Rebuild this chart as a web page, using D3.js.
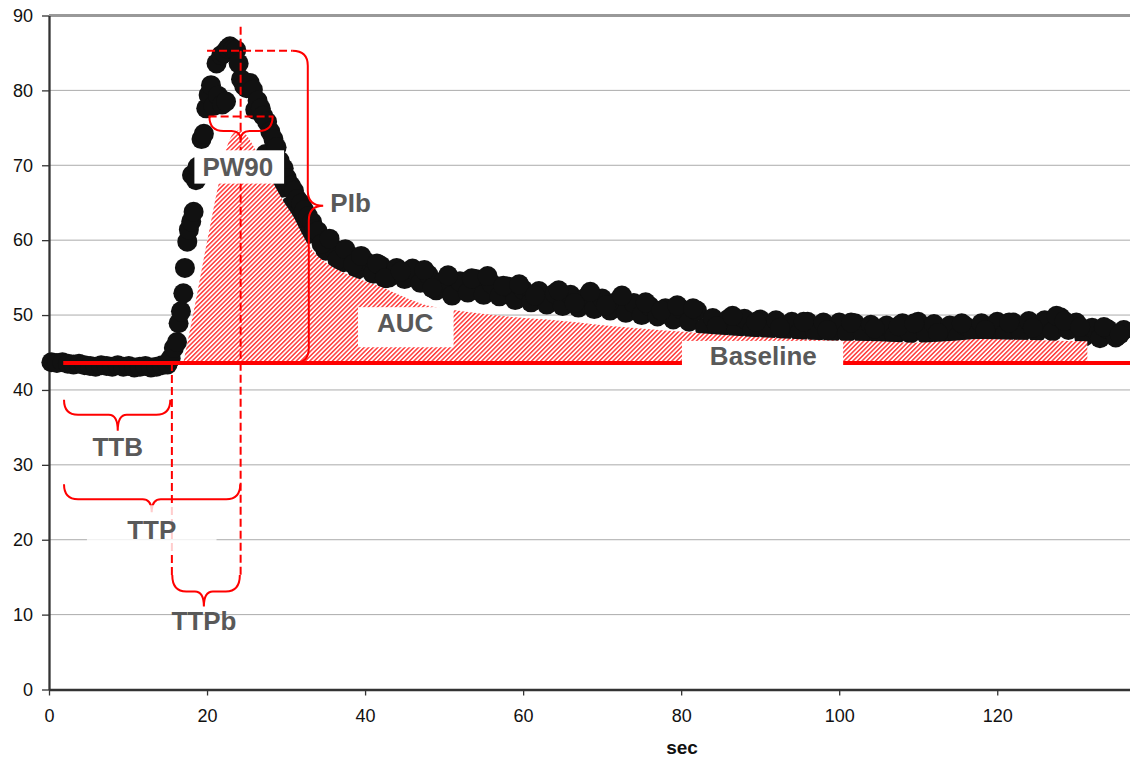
<!DOCTYPE html>
<html>
<head>
<meta charset="utf-8">
<script src="https://cdn.jsdelivr.net/npm/d3@7"></script>
<style>
  body { margin: 0; background: #fff; }
  svg { display: block; font-family: "Liberation Sans", Arial, sans-serif; }
</style>
</head>
<body>
<div id="chart"></div>
<script>
// signal before contrast arrival (sec, intensity)
var preTimes  = [0.3, 1.0, 1.7, 2.4, 3.1, 3.8, 4.5, 5.2, 5.9, 6.6, 7.3, 8.0, 8.7, 9.4, 10.1, 10.8, 11.5, 12.2, 12.9, 13.6, 14.3];
var preValues = [43.7, 43.6, 43.7, 43.5, 43.4, 43.5, 43.3, 43.2, 43.1, 43.3, 43.2, 43.1, 43.3, 43.1, 43.2, 43.0, 43.1, 43.2, 43.0, 43.1, 43.3];

// first pass of the bolus
var peakTimes  = [15.0, 15.4, 15.8, 16.2, 16.4, 16.7, 17.0, 17.2, 17.5, 17.7, 18.0, 18.1, 18.3, 18.6, 18.8, 19.3, 19.6, 19.9, 20.2, 20.5,
                  20.8, 21.2, 21.4, 21.8, 21.9, 22.2, 22.4, 22.6, 22.9, 23.3, 23.7, 24.0, 24.3, 24.7, 25.0, 25.4, 25.8, 26.1, 26.4, 26.8,
                  27.1, 27.4, 27.6, 28.0, 28.4, 28.5, 28.8, 29.2, 29.5, 29.7, 30.1, 30.6, 30.6, 31.0, 31.4, 31.6, 31.9, 32.3, 32.8, 32.8,
                  33.3, 33.6];
var peakValues = [43.4, 44.2, 45.6, 46.4, 48.9, 50.5, 52.9, 56.3, 59.8, 61.4, 62.5, 68.7, 63.8, 68.0, 69.8, 73.5, 74.2, 77.6, 79.4, 80.7,
                  77.9, 83.6, 79.3, 84.7, 78.1, 85.0, 78.5, 85.6, 85.9, 85.5, 85.4, 83.6, 81.5, 80.6, 80.3, 81.0, 80.1, 77.4, 78.6, 77.6,
                  76.6, 71.5, 75.8, 74.5, 73.5, 69.0, 72.4, 70.6, 67.0, 69.6, 68.3, 64.6, 67.3, 66.6, 65.5, 62.8, 64.9, 64.0, 60.8, 63.2,
                  62.4, 61.5];

// washout tail
var tailTimes  = [34, 35, 36, 37, 38, 39, 40, 41, 42, 43, 44, 45, 46, 47, 48, 49, 50, 51, 52, 53,
                  54, 55, 56, 57, 58, 59, 60, 61, 62, 63, 64, 65, 66, 67, 68, 69, 70, 71, 72, 73,
                  74, 75, 76, 77, 78, 79, 80, 81, 82, 83, 84, 85, 86, 87, 88, 89, 90, 91, 92, 93,
                  94, 95, 96, 97, 98, 99, 100, 101, 102, 103, 104, 105, 106, 107, 108, 109, 110, 111, 112, 113,
                  114, 115, 116, 117, 118, 119, 120, 121, 122, 123, 124, 125, 126, 127, 128, 129, 130, 131, 132, 133,
                  134, 135, 136];
var tailValues = [61.2, 58.6, 58.9, 57.0, 58.0, 56.1, 57.2, 55.5, 56.6, 55.0, 56.3, 54.8, 56.2, 54.3, 55.4, 53.3, 54.6, 52.6, 54.5, 53.0,
                  54.8, 52.7, 54.2, 52.5, 53.8, 52.0, 53.4, 51.7, 53.2, 51.4, 52.9, 51.2, 52.7, 51.0, 52.4, 50.8, 52.2, 50.6, 51.9, 50.3,
                  51.6, 50.0, 51.2, 49.8, 50.9, 49.4, 50.8, 49.1, 50.6, 48.3, 49.6, 48.2, 49.5, 48.1, 49.5, 48.0, 49.4, 47.9, 49.3, 47.8,
                  49.1, 47.7, 49.1, 47.6, 49.0, 47.5, 49.0, 47.6, 48.9, 47.4, 48.7, 47.3, 48.6, 47.2, 48.9, 47.5, 49.1, 47.4, 48.8, 47.2,
                  48.6, 47.1, 48.5, 47.4, 48.9, 47.6, 49.1, 47.5, 49.0, 47.6, 49.2, 47.7, 49.3, 47.8, 49.7, 48.0, 49.0, 47.1, 48.3, 46.9,
                  48.1, 47.0, 48.0];
// in-between tail samples
var midTimes  = [34.5, 35.5, 36.5, 37.5, 38.5, 39.5, 41.5, 42.5, 44.5, 47.5, 48.5, 50.5, 53.5, 55.5, 57.5, 59.5, 61.5, 64.5, 66.5, 68.5,
                 70.5, 72.5, 75.5, 77.5, 79.5, 81.5, 84.5, 86.5, 89.5, 92.5, 95.5, 98.5, 101.5, 104.5, 107.5, 109.5, 112.5, 115.5, 118.5, 121.5,
                 124.5, 127.5, 128.5, 130.5, 133.5, 135.5];
var midValues = [59.5, 60.2, 57.4, 58.8, 56.8, 57.9, 56.9, 54.9, 55.8, 56.0, 53.6, 55.3, 54.9, 55.2, 53.9, 54.1, 52.6, 53.3, 51.6, 53.1,
                 51.3, 52.6, 51.7, 50.6, 51.3, 50.9, 48.5, 49.9, 49.1, 48.3, 49.1, 48.0, 49.0, 48.2, 48.5, 48.9, 47.6, 48.9, 48.0, 49.0,
                 48.3, 49.9, 49.2, 48.4, 48.4, 47.4];

// fitted curve used for the area under curve
var aucTimes  = [17.0, 18.5, 20.0, 21.4, 22.5, 23.3, 24.2, 25.0, 26.0, 27.2, 28.4, 29.6, 30.9, 32.0, 33.0, 34.0, 35.2, 36.8, 38.5, 40.0,
                 41.9, 44.5, 47.4, 51.0, 54.6, 59.0, 63.0, 67.0, 71.4, 76.0, 79.9, 86.0, 92.5, 99.0, 105.2, 109.4, 113.5, 117.8, 122.0, 126.5,
                 131.4];
var aucValues = [43.6, 51.5, 59.8, 67.2, 72.4, 74.2, 74.7, 74.0, 72.3, 70.0, 67.6, 65.3, 63.2, 60.9, 59.1, 57.9, 56.9, 55.9, 55.1, 54.5,
                 53.8, 52.6, 51.4, 50.7, 50.2, 49.7, 49.4, 49.0, 48.5, 48.1, 47.8, 47.3, 46.9, 46.6, 46.5, 46.3, 46.5, 46.8, 46.7, 46.6,
                 46.5];

var xTicks = [0, 20, 40, 60, 80, 100, 120];
var yTicks = [0, 10, 20, 30, 40, 50, 60, 70, 80, 90];

// perfusion parameters
var baseLevel = 43.6, peakLevel = 85.3, pw90Level = 76.5;
var tStart = 1.9, tArrival = 15.55, tPeak = 24.25;

var W = 1130, H = 757;
var svg = d3.select("#chart").append("svg").attr("width", W).attr("height", H);

var x = d3.scaleLinear().domain([0, 136.8]).range([49, 1130]);
var y = d3.scaleLinear().domain([0, 90]).range([689.5, 15.5]);

var defs = svg.append("defs");
var pat = defs.append("pattern")
    .attr("id", "hatch")
    .attr("patternUnits", "userSpaceOnUse")
    .attr("width", 3.2).attr("height", 3.2)
    .attr("patternTransform", "rotate(45)");
pat.append("rect").attr("width", 3.2).attr("height", 3.2).attr("fill", "#fff");
pat.append("rect").attr("width", 1.5).attr("height", 3.2).attr("fill", "#ff3c3c");

//gridlines
svg.append("g").selectAll("line")
    .data(yTicks.filter(function(d) { return d > 0; }))
    .enter().append("line")
    .attr("x1", x(0)).attr("x2", W)
    .attr("y1", function(d) { return y(d); })
    .attr("y2", function(d) { return y(d); })
    .style("stroke", function(d) { return d == 90 ? "#999" : "#ababab"; })
    .style("stroke-width", function(d) { return d == 90 ? 3 : 1; });

//axes
var yAxis = svg.append("g")
    .attr("transform", "translate(" + x(0) + ",0)")
    .call(d3.axisLeft(y).tickValues(yTicks).tickSizeInner(7).tickSizeOuter(0).tickPadding(9));
var xAxis = svg.append("g")
    .attr("transform", "translate(0," + y(0) + ")")
    .call(d3.axisBottom(x).tickValues(xTicks).tickSizeInner(6).tickSizeOuter(0).tickPadding(14));
[yAxis, xAxis].forEach(function(g) {
    g.select(".domain").style("stroke", "#333").style("stroke-width", 2.3);
    g.selectAll(".tick line").style("stroke", "#333").style("stroke-width", 1.3);
    g.selectAll(".tick text")
        .style("font-family", "Liberation Sans, Arial, sans-serif")
        .style("font-size", "18px")
        .style("fill", "#111");
});

svg.append("text")
    .attr("x", 682).attr("y", 754)
    .attr("text-anchor", "middle")
    .style("font-size", "19px").style("font-weight", "bold").style("fill", "#111")
    .text("sec");

//measured samples
var samples = [];
[[preTimes, preValues], [peakTimes, peakValues], [tailTimes, tailValues], [midTimes, midValues]].forEach(function(s) {
    s[0].forEach(function(t, i) { samples.push({t: t, v: s[1][i]}); });
});
svg.append("g").selectAll("circle")
    .data(samples)
    .enter().append("circle")
    .attr("cx", function(d) { return x(d.t); })
    .attr("cy", function(d) { return y(d.v); })
    .attr("r", 10)
    .style("fill", "#111");

//hatched area under the fitted curve
var auc = aucTimes.map(function(t, i) { return {t: t, v: aucValues[i]}; });
var area = d3.area()
    .x(function(d) { return x(d.t); })
    .y0(y(baseLevel))
    .y1(function(d) { return y(d.v); })
    .curve(d3.curveMonotoneX);
svg.append("path").datum(auc).attr("d", area).style("fill", "url(#hatch)");

//baseline
svg.append("line")
    .attr("x1", x(1.8)).attr("x2", W)
    .attr("y1", y(baseLevel)).attr("y2", y(baseLevel))
    .style("stroke", "#ff0000").style("stroke-width", 4);

var red = "#ff0000";
function dashed(x1, y1, x2, y2) {
    svg.append("line")
        .attr("x1", x1).attr("y1", y1).attr("x2", x2).attr("y2", y2)
        .style("stroke", red).style("stroke-width", 2).style("stroke-dasharray", "8,4");
}
// horizontal curly brace opening upwards, cusp pointing down
function hBrace(x1, x2, xm, yTop, depth, tip) {
    var ym = yTop + depth, r = 14, rt = 9;
    var p = "M" + x1 + "," + yTop +
        "Q" + x1 + "," + ym + " " + (x1 + r) + "," + ym +
        "L" + (xm - rt) + "," + ym +
        "Q" + xm + "," + ym + " " + xm + "," + (ym + tip) +
        "Q" + xm + "," + ym + " " + (xm + rt) + "," + ym +
        "L" + (x2 - r) + "," + ym +
        "Q" + x2 + "," + ym + " " + x2 + "," + yTop;
    svg.append("path").attr("d", p)
        .style("fill", "none").style("stroke", red).style("stroke-width", 2);
}

dashed(x(tPeak), y(88.5), x(tPeak), y(14.8));
dashed(x(tArrival), y(baseLevel), x(tArrival), y(14.8));
dashed(x(20.0), y(peakLevel), x(30.8), y(peakLevel));
dashed(x(20.2), y(pw90Level), x(28.4), y(pw90Level));

//PIb brace
var bx = x(32.75), tipX = x(34.7), yT = y(peakLevel), yTip = y(64.6), yB = y(baseLevel);
svg.append("path")
    .attr("d", "M" + x(30.8) + "," + yT +
        "Q" + bx + "," + yT + " " + bx + "," + (yT + 15) +
        "L" + bx + "," + (yTip - 15) +
        "Q" + bx + "," + yTip + " " + tipX + "," + yTip +
        "Q" + (bx + 1) + "," + yTip + " " + (bx + 1) + "," + (yTip + 15) +
        "L" + (bx + 1) + "," + (yB - 15) +
        "Q" + (bx + 1) + "," + yB + " " + (bx - 14) + "," + yB)
    .style("fill", "none").style("stroke", red).style("stroke-width", 2);

hBrace(x(20.3), x(28.3), x(tPeak), y(pw90Level), 14.5, 9);
hBrace(x(tStart), x(15.35), x(8.7), y(38.7), 15, 16);
hBrace(x(tStart), x(24.2), x(13.0), y(27.4), 15, 13);
hBrace(x(15.6), x(24.15), x(19.6), y(15.3), 16.5, 15);

//label boxes
var boxes = [
    {t0: 18.4, t1: 29.75, v0: 72.0, v1: 67.55, op: 1},
    {t0: 39.1, t1: 51.2, v0: 51.05, v1: 45.7, op: 1},
    {t0: 80.1, t1: 100.5, v0: 46.55, v1: 42.7, op: 1},
    {t0: 4.8, t1: 21.2, v0: 24.6, v1: 18.2, op: 0.8}
];
svg.append("g").selectAll("rect")
    .data(boxes)
    .enter().append("rect")
    .attr("x", function(d) { return x(d.t0); })
    .attr("y", function(d) { return y(d.v0); })
    .attr("width", function(d) { return x(d.t1) - x(d.t0); })
    .attr("height", function(d) { return y(d.v1) - y(d.v0); })
    .style("fill", "#fff")
    .style("opacity", function(d) { return d.op; });

var labels = [
    {text: "PW90", t: 23.9, v: 68.6, anchor: "middle"},
    {text: "PIb", t: 35.6, v: 63.8, anchor: "start"},
    {text: "AUC", t: 45.06, v: 47.8, anchor: "middle"},
    {text: "Baseline", t: 90.4, v: 43.3, anchor: "middle"},
    {text: "TTB", t: 8.7, v: 31.2, anchor: "middle"},
    {text: "TTP", t: 13.0, v: 20.1, anchor: "middle"},
    {text: "TTPb", t: 19.6, v: 7.95, anchor: "middle"}
];
svg.append("g").selectAll("text")
    .data(labels)
    .enter().append("text")
    .attr("x", function(d) { return x(d.t); })
    .attr("y", function(d) { return y(d.v); })
    .attr("text-anchor", function(d) { return d.anchor; })
    .style("font-size", "26px")
    .style("font-weight", "bold")
    .style("fill", "#595959")
    .text(function(d) { return d.text; });
</script>
</body>
</html>
